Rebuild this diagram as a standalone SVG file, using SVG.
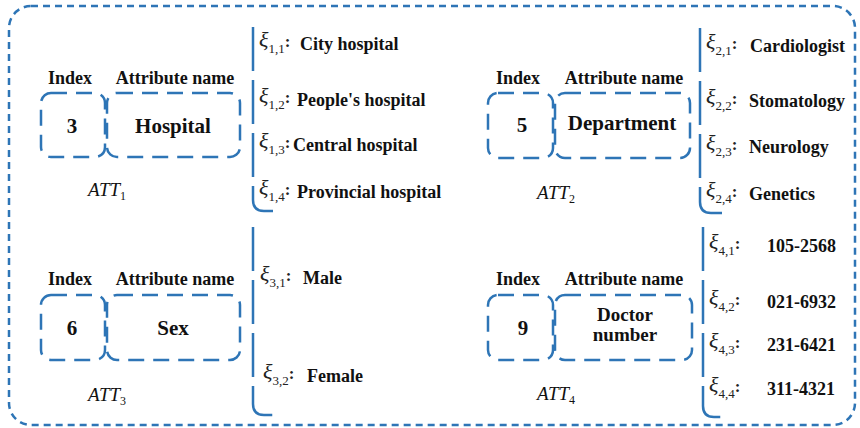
<svg xmlns="http://www.w3.org/2000/svg" width="860" height="428" viewBox="0 0 860 428">
<style>
.frame{fill:none;stroke:#2e75b6;stroke-width:2.5;stroke-dasharray:7 5}
.box{fill:#fff;stroke:#2e75b6;stroke-width:2.5;stroke-dasharray:16 9}
.br{fill:none;stroke:#2e75b6;stroke-width:2.5;stroke-dasharray:44 9}
.lbl{font-family:"Liberation Serif","Times New Roman",serif;font-weight:bold;font-size:18px;fill:#111;text-anchor:middle}
.big{font-family:"Liberation Serif","Times New Roman",serif;font-weight:bold;font-size:21px;fill:#111;text-anchor:middle}
.two{font-size:19px}
.att{font-family:"Liberation Serif","Times New Roman",serif;font-style:italic;font-size:19px;fill:#111}
.attsub{font-style:normal;font-size:12px}
.xi{font-family:"Liberation Serif","Times New Roman",serif;font-style:italic;font-size:22px;fill:#222}
.sub{font-style:normal;font-size:13px}
.col{font-style:normal;font-weight:bold;font-size:17px}
.val{font-family:"Liberation Serif","Times New Roman",serif;font-weight:bold;font-size:18px;fill:#111}
</style>
<rect class="frame" x="9" y="6" width="846" height="419" rx="22"/>

<g id="connectors">
<path class="br" d="M253,27 V200 Q253,211 264,211 H273"/>
<path class="br" d="M700,28 V202 Q700,213 711,213 H722"/>
<path class="br" d="M253,227 V404 Q253,415 264,415 H273"/>
<path class="br" d="M703,227 V406 Q703,417 714,417 H723"/>
</g>

<g id="att1">
<text class="lbl" x="70" y="84">Index</text>
<text class="lbl" x="175" y="84">Attribute name</text>
<rect class="box" x="41" y="93" width="64" height="64" rx="10"/>
<rect class="box" x="107" y="93" width="133" height="64" rx="10"/>
<text class="big" x="72" y="133">3</text>
<text class="big" x="173" y="133">Hospital</text>
<text class="att" x="88" y="196">ATT<tspan class="attsub" dy="4">1</tspan></text>
</g>

<g id="att2">
<text class="lbl" x="518" y="84">Index</text>
<text class="lbl" x="624" y="84">Attribute name</text>
<rect class="box" x="488" y="93" width="65" height="65" rx="10"/>
<rect class="box" x="555" y="93" width="135" height="65" rx="10"/>
<text class="big" x="522" y="132">5</text>
<text class="big" x="622" y="130">Department</text>
<text class="att" x="537" y="199">ATT<tspan class="attsub" dy="4">2</tspan></text>
</g>

<g id="att3">
<text class="lbl" x="70" y="285">Index</text>
<text class="lbl" x="175" y="285">Attribute name</text>
<rect class="box" x="41" y="295" width="64" height="65" rx="10"/>
<rect class="box" x="107" y="295" width="133" height="65" rx="10"/>
<text class="big" x="72" y="335">6</text>
<text class="big" x="173" y="335">Sex</text>
<text class="att" x="88" y="401">ATT<tspan class="attsub" dy="4">3</tspan></text>
</g>

<g id="att4">
<text class="lbl" x="518" y="285">Index</text>
<text class="lbl" x="624" y="285">Attribute name</text>
<rect class="box" x="488" y="295" width="65" height="65" rx="10"/>
<rect class="box" x="555" y="295" width="137" height="65" rx="10"/>
<text class="big" x="523" y="335">9</text>
<text class="big two" x="625" y="321">Doctor</text>
<text class="big two" x="625" y="341">number</text>
<text class="att" x="537" y="400">ATT<tspan class="attsub" dy="4">4</tspan></text>
</g>

<g id="values1">
<text class="xi" x="259" y="47">ξ<tspan class="sub" dy="6">1,1</tspan><tspan class="col" dy="-6">:</tspan></text>
<text class="val" x="300" y="50">City hospital</text>
<text class="xi" x="259" y="103">ξ<tspan class="sub" dy="6">1,2</tspan><tspan class="col" dy="-6">:</tspan></text>
<text class="val" x="297" y="106">People's hospital</text>
<text class="xi" x="259" y="148">ξ<tspan class="sub" dy="6">1,3</tspan><tspan class="col" dy="-6">:</tspan></text>
<text class="val" x="293" y="151">Central hospital</text>
<text class="xi" x="259" y="195">ξ<tspan class="sub" dy="6">1,4</tspan><tspan class="col" dy="-6">:</tspan></text>
<text class="val" x="297" y="198">Provincial hospital</text>
</g>

<g id="values2">
<text class="xi" x="706" y="49">ξ<tspan class="sub" dy="6">2,1</tspan><tspan class="col" dy="-6">:</tspan></text>
<text class="val" x="750" y="52">Cardiologist</text>
<text class="xi" x="706" y="104">ξ<tspan class="sub" dy="6">2,2</tspan><tspan class="col" dy="-6">:</tspan></text>
<text class="val" x="749" y="107">Stomatology</text>
<text class="xi" x="706" y="150">ξ<tspan class="sub" dy="6">2,3</tspan><tspan class="col" dy="-6">:</tspan></text>
<text class="val" x="749" y="153">Neurology</text>
<text class="xi" x="706" y="197">ξ<tspan class="sub" dy="6">2,4</tspan><tspan class="col" dy="-6">:</tspan></text>
<text class="val" x="749" y="200">Genetics</text>
</g>

<g id="values3">
<text class="xi" x="260" y="281">ξ<tspan class="sub" dy="6">3,1</tspan><tspan class="col" dy="-6">:</tspan></text>
<text class="val" x="303" y="284">Male</text>
<text class="xi" x="263" y="379">ξ<tspan class="sub" dy="6">3,2</tspan><tspan class="col" dy="-6">:</tspan></text>
<text class="val" x="307" y="382">Female</text>
</g>

<g id="values4">
<text class="xi" x="709" y="249">ξ<tspan class="sub" dy="6">4,1</tspan><tspan class="col" dy="-6">:</tspan></text>
<text class="val" x="767" y="252">105-2568</text>
<text class="xi" x="709" y="305">ξ<tspan class="sub" dy="6">4,2</tspan><tspan class="col" dy="-6">:</tspan></text>
<text class="val" x="767" y="308">021-6932</text>
<text class="xi" x="709" y="348">ξ<tspan class="sub" dy="6">4,3</tspan><tspan class="col" dy="-6">:</tspan></text>
<text class="val" x="767" y="351">231-6421</text>
<text class="xi" x="709" y="392">ξ<tspan class="sub" dy="6">4,4</tspan><tspan class="col" dy="-6">:</tspan></text>
<text class="val" x="767" y="395">311-4321</text>
</g>
</svg>
